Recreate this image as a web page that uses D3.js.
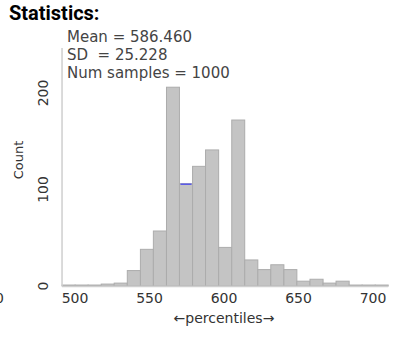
<!DOCTYPE html>
<html>
<head>
<meta charset="utf-8">
<script src="https://cdn.jsdelivr.net/npm/d3@7"></script>
<style>
  body { margin: 0; background: #fff; }
  svg text { font-family: "DejaVu Sans", Verdana, sans-serif; fill: #333; }
</style>
</head>
<body>
<div id="chart"></div>
<script>
// Histogram bin edges (percentiles) and counts per bin
var binEdges = [491.3, 500.1, 508.8, 517.6, 526.3, 535.1, 543.9, 552.6, 561.4, 570.1,
  578.9, 587.6, 596.4, 605.2, 613.9, 622.7, 631.4, 640.2, 648.9, 657.7,
  666.5, 675.2, 684.0, 692.7, 701.5, 710.2];
var counts = [1, 1, 1, 2, 3, 16, 38, 57, 206, 106, 124, 141, 40, 172, 27, 17, 22, 17, 5, 7, 3, 5, 1, 1, 1];
var highlightBin = 9;
var xTicks = [500, 550, 600, 650, 700];
var yTicks = [0, 100, 200];
var statLines = ["Mean = 586.460", "SD  = 25.228", "Num samples = 1000"];

var bins = counts.map(function(c, i) {
  return { x0: binEdges[i], x1: binEdges[i + 1], count: c };
});

var svg = d3.select("#chart")
  .append("svg")
  .attr("width", 409)
  .attr("height", 339);

// Scales
var x = d3.scaleLinear().domain([500, 700]).range([75, 373]);
var y = d3.scaleLinear().domain([0, 200]).range([286, 93]);

// Title
svg.append("text")
  .attr("x", 9)
  .attr("y", 20)
  .style("font-family", "Roboto, sans-serif")
  .style("font-weight", "700")
  .style("font-size", "20px")
  .style("fill", "#000")
  .text("Statistics:");

// Bars
svg.append("g")
  .selectAll("rect")
  .data(bins)
  .enter().append("rect")
  .attr("x", function(d) { return x(d.x0); })
  .attr("y", function(d) { return y(d.count); })
  .attr("width", function(d) { return x(d.x1) - x(d.x0); })
  .attr("height", function(d) { return y(0) - y(d.count); })
  .attr("fill", "#c4c4c4")
  .attr("stroke", "#acacac")
  .attr("stroke-width", 1);

// blue marker on top of one bin
var hb = bins[highlightBin];
svg.append("line")
  .attr("x1", x(hb.x0) + 1)
  .attr("x2", x(hb.x1) - 1)
  .attr("y1", y(hb.count) + 0.5)
  .attr("y2", y(hb.count) + 0.5)
  .attr("stroke", "#5b5be6")
  .attr("stroke-width", 1.6);

// Axis lines
svg.append("line")
  .attr("x1", x(binEdges[0])).attr("x2", x(binEdges[0]))
  .attr("y1", 48).attr("y2", y(0))
  .attr("stroke", "#cfcfcf").attr("stroke-width", 1.5);
svg.append("line")
  .attr("x1", x(binEdges[0])).attr("x2", x(binEdges[binEdges.length - 1]))
  .attr("y1", y(0) + 0.5).attr("y2", y(0) + 0.5)
  .attr("stroke", "#cfcfcf").attr("stroke-width", 1.5);

// X axis tick labels
svg.append("g")
  .selectAll("text")
  .data(xTicks)
  .enter().append("text")
  .attr("x", function(d) { return x(d); })
  .attr("y", 303)
  .attr("text-anchor", "middle")
  .style("font-size", "14px")
  .text(function(d) { return d; });

// Y axis tick labels (rotated)
svg.append("g")
  .selectAll("text")
  .data(yTicks)
  .enter().append("text")
  .attr("transform", function(d) {
    return "translate(48," + y(d) + ") rotate(-90)";
  })
  .attr("text-anchor", "middle")
  .style("font-size", "14px")
  .text(function(d) { return d; });

// Axis titles
svg.append("text")
  .attr("x", 224)
  .attr("y", 323)
  .attr("text-anchor", "middle")
  .style("font-size", "14px")
  .text("\u2190percentiles\u2192");

svg.append("text")
  .attr("transform", "translate(23,160) rotate(-90)")
  .attr("text-anchor", "middle")
  .style("font-size", "13px")
  .text("Count");

// clipped label from neighbouring panel
svg.append("text")
  .attr("x", 4)
  .attr("y", 303)
  .attr("text-anchor", "end")
  .style("font-size", "14px")
  .text("0");

// Statistics text
svg.append("g")
  .selectAll("text")
  .data(statLines)
  .enter().append("text")
  .attr("x", 67)
  .attr("y", function(d, i) { return 42 + i * 18; })
  .style("font-size", "15px")
  .style("fill", "#444")
  .attr("xml:space", "preserve")
  .text(function(d) { return d; });
</script>
</body>
</html>
